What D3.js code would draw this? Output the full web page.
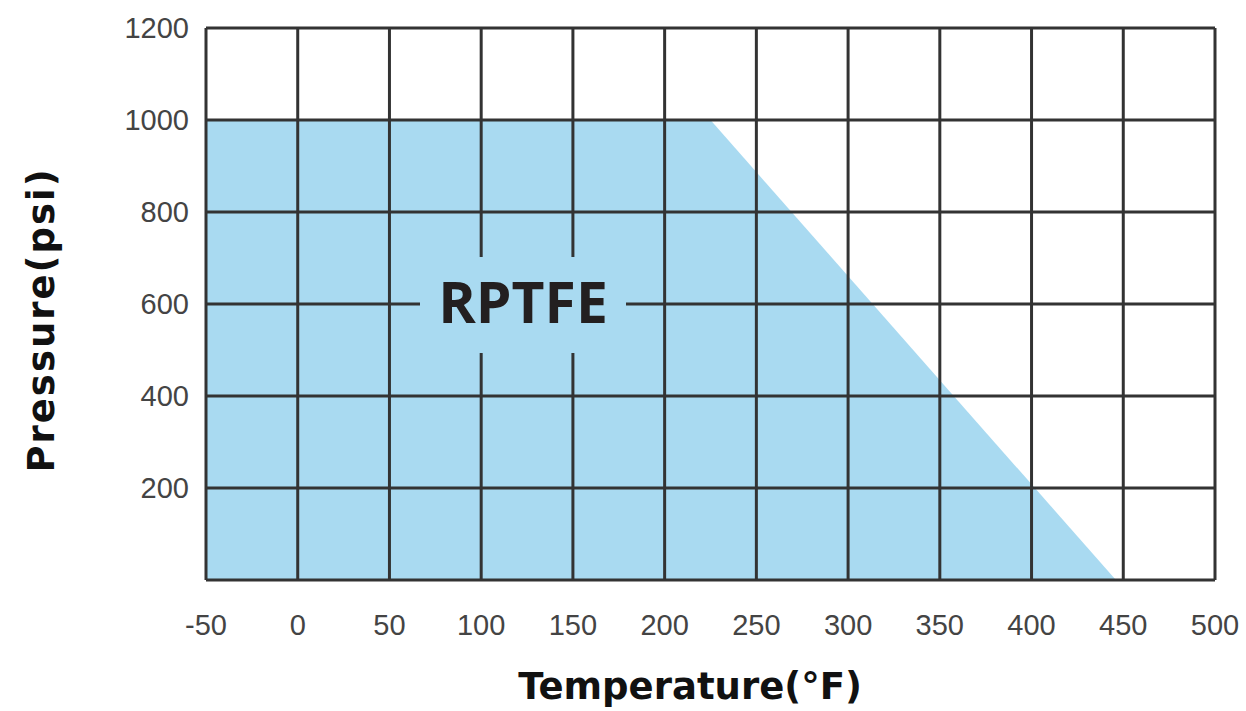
<!DOCTYPE html>
<html>
<head>
<meta charset="utf-8">
<script src="https://cdn.jsdelivr.net/npm/d3@7"></script>
<style>
  body { margin: 0; background: #fff; }
  svg { display: block; }
</style>
</head>
<body>
<svg></svg>
<script>
const SVG_WIDTH = 1246, SVG_HEIGHT = 711;
const PLOT = { left: 206, right: 1215, top: 28, bottom: 580 };

const xTicks = [-50, 0, 50, 100, 150, 200, 250, 300, 350, 400, 450, 500];
const yTicks = [200, 400, 600, 800, 1000, 1200];
const yGrid = [0, 200, 400, 600, 800, 1000, 1200];

// pressure/temperature envelope of the RPTFE seat
const envTemp = [-50, -50, 225, 446];
const envPressure = [0, 1000, 1000, 0];

const x = d3.scaleLinear().domain([-50, 500]).range([PLOT.left, PLOT.right]);
const y = d3.scaleLinear().domain([0, 1200]).range([PLOT.bottom, PLOT.top]);

const svg = d3.select("svg").attr("width", SVG_WIDTH).attr("height", SVG_HEIGHT);

const FILL = "#a9daf1", LINE = "#333";

svg.append("path")
    .attr("d", d3.line().x(function(d) { return x(d[0]) }).y(function(d) { return y(d[1]) })
        .curve(d3.curveLinearClosed)(d3.zip(envTemp, envPressure)))
    .attr("fill", FILL);

// grid
svg.append("g").selectAll("line").data(xTicks).enter().append("line")
    .attr("x1", d => x(d)).attr("x2", d => x(d))
    .attr("y1", PLOT.top).attr("y2", PLOT.bottom)
    .attr("stroke", LINE).attr("stroke-width", 3);
svg.append("g").selectAll("line").data(yGrid).enter().append("line")
    .attr("x1", PLOT.left).attr("x2", PLOT.right)
    .attr("y1", d => y(d)).attr("y2", d => y(d))
    .attr("stroke", LINE).attr("stroke-width", 3);

// label box that cuts the grid
svg.append("rect")
    .attr("x", 420).attr("y", 257).attr("width", 206).attr("height", 96)
    .attr("fill", FILL);
svg.append("text")
    .attr("x", 523).attr("y", 323)
    .attr("text-anchor", "middle")
    .style("font-family", "'Open Sans', 'Noto Sans', sans-serif")
    .style("font-weight", "bold").style("font-size", "57px")
    .attr("fill", "#231f20")
    .text("RPTFE");

// tick labels
svg.append("g").selectAll("text").data(xTicks).enter().append("text")
    .attr("x", d => x(d)).attr("y", 635)
    .attr("text-anchor", "middle")
    .style("font-family", "'Liberation Sans', Arial, sans-serif").style("font-size", "29px")
    .attr("fill", "#444")
    .text(d => d);
svg.append("g").selectAll("text").data(yTicks).enter().append("text")
    .attr("x", 189).attr("y", d => y(d) + 10)
    .attr("text-anchor", "end")
    .style("font-family", "'Liberation Sans', Arial, sans-serif").style("font-size", "29px")
    .attr("fill", "#444")
    .text(d => d);

// axis titles
svg.append("text")
    .attr("x", 690).attr("y", 699)
    .attr("text-anchor", "middle")
    .style("font-family", "'DejaVu Sans', sans-serif")
    .style("font-weight", "bold").style("font-size", "37px")
    .attr("fill", "#111")
    .text("Temperature(°F)");
svg.append("text")
    .attr("transform", "translate(54,320) rotate(-90)")
    .attr("text-anchor", "middle")
    .style("font-family", "'DejaVu Sans', sans-serif")
    .style("font-weight", "bold").style("font-size", "37px")
    .style("letter-spacing", "2px")
    .attr("fill", "#111")
    .text("Pressure(psi)");
</script>
</body>
</html>
